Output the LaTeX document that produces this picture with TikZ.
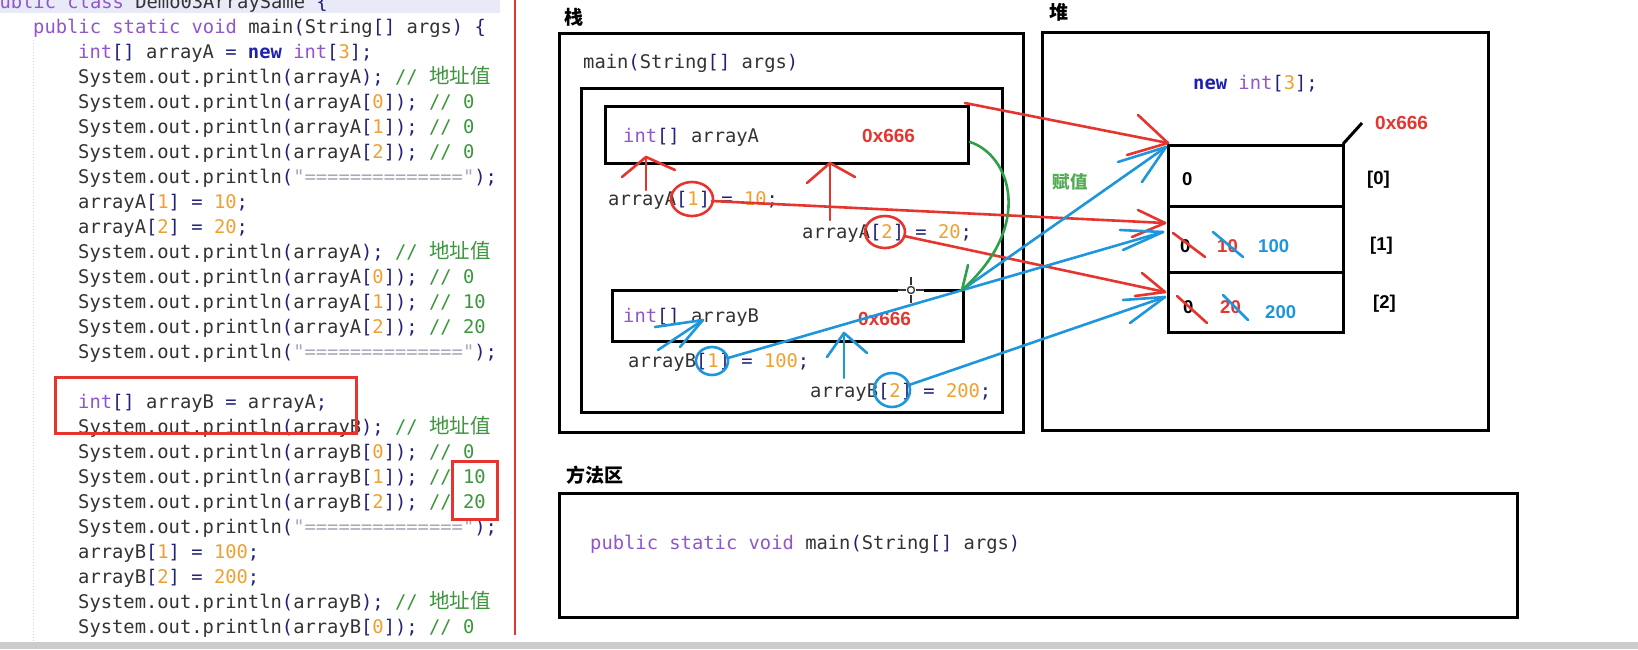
\documentclass[tikz,border=0pt]{standalone}
\usepackage{fontspec}
\setmonofont{DejaVu Sans Mono}
\newfontfamily\cjk{Noto Sans CJK SC}
\newfontfamily\labfont{Liberation Sans}
\definecolor{kwc}{HTML}{9155CD}
\definecolor{newc}{HTML}{2020B0}
\definecolor{brc}{HTML}{22227A}
\definecolor{numc}{HTML}{F0A030}
\definecolor{cmc}{HTML}{3C963C}
\definecolor{strc}{HTML}{A8A8B8}
\definecolor{txtc}{HTML}{333333}
\definecolor{penred}{HTML}{E5352E}
\definecolor{penblue}{HTML}{1E96DC}
\definecolor{pengreen}{HTML}{2EA04A}
\definecolor{labgreen}{HTML}{55AA55}
\definecolor{hdrc}{HTML}{E9EAF8}
\newcommand\ckw[1]{\textcolor{kwc}{#1}}
\newcommand\cbr[1]{\textcolor{brc}{#1}}
\newcommand\cnum[1]{\textcolor{numc}{#1}}
\newcommand\ccm[1]{\textcolor{cmc}{#1}}
\newcommand\cstr[1]{\textcolor{strc}{#1}}
\newcommand\cnew{{\bfseries\textcolor{newc}{new}}}
\newcommand\codefont{\ttfamily\fontsize{18.8}{25}\selectfont}
\newcommand\cjkc{\cjk\fontsize{20.5}{25}\selectfont}
\newcommand\sop{System.out.println\cbr{(}}
\begin{document}
\begin{tikzpicture}[x=1pt,y=-1pt,
  code/.style={font=\codefont, text=txtc, inner sep=0, anchor=base west},
  box/.style={draw=black, line width=3, inner sep=0},
  cjklab/.style={font=\cjk\bfseries\fontsize{19}{19}\selectfont, text=black, inner sep=0},
  addr/.style={font=\labfont\bfseries\fontsize{19}{19}\selectfont, text=penred, inner sep=0, anchor=base west},
  cellval/.style={font=\labfont\bfseries\fontsize{18.5}{18.5}\selectfont, text=black, inner sep=0, anchor=base west},
  redpen/.style={draw=penred, line width=2.6, line cap=round, line join=round},
  bluepen/.style={draw=penblue, line width=2.6, line cap=round, line join=round},
  greenpen/.style={draw=pengreen, line width=2.6, line cap=round, line join=round},
  hlbox/.style={draw=penred, line width=3, inner sep=0}]
\useasboundingbox (0,0) rectangle (1638,649);
\clip (0,0) rectangle (1638,649);
\fill[white] (0,0) rectangle (1638,649);
% ---------- code panel ----------
\fill[hdrc] (0,0) rectangle (500,13);
\draw[gray!35, line width=1, dotted] (33,40) -- (33,642);
\node[code] (c1) at (-12,8) {\ckw{public class} Demo03ArraySame \cbr{\{}};
\node[code] (c2) at (33,33) {\ckw{public static void} main\cbr{(}String\cbr{[]} args\cbr{) \{}};
\node[code] (c3) at (78,58) {\ckw{int}\cbr{[]} arrayA \cbr{=} \cnew{} \ckw{int}\cbr{[}\cnum{3}\cbr{];}};
\node[code] (c4) at (78,83) {\sop arrayA\cbr{);} \ccm{// {\cjkc 地址值}}};
\node[code] (c5) at (78,108) {\sop arrayA\cbr{[}\cnum{0}\cbr{]);} \ccm{// 0}};
\node[code] (c6) at (78,133) {\sop arrayA\cbr{[}\cnum{1}\cbr{]);} \ccm{// 0}};
\node[code] (c7) at (78,158) {\sop arrayA\cbr{[}\cnum{2}\cbr{]);} \ccm{// 0}};
\node[code] (c8) at (78,183) {\sop\cstr{"=============="}\cbr{);}};
\node[code] (c9) at (78,208) {arrayA\cbr{[}\cnum{1}\cbr{]} \cbr{=} \cnum{10}\cbr{;}};
\node[code] (c10) at (78,233) {arrayA\cbr{[}\cnum{2}\cbr{]} \cbr{=} \cnum{20}\cbr{;}};
\node[code] (c11) at (78,258) {\sop arrayA\cbr{);} \ccm{// {\cjkc 地址值}}};
\node[code] (c12) at (78,283) {\sop arrayA\cbr{[}\cnum{0}\cbr{]);} \ccm{// 0}};
\node[code] (c13) at (78,308) {\sop arrayA\cbr{[}\cnum{1}\cbr{]);} \ccm{// 10}};
\node[code] (c14) at (78,333) {\sop arrayA\cbr{[}\cnum{2}\cbr{]);} \ccm{// 20}};
\node[code] (c15) at (78,358) {\sop\cstr{"=============="}\cbr{);}};
\node[code] (c16) at (78,408) {\ckw{int}\cbr{[]} arrayB \cbr{=} arrayA\cbr{;}};
\node[code] (c17) at (78,433) {\sop arrayB\cbr{);} \ccm{// {\cjkc 地址值}}};
\node[code] (c18) at (78,458) {\sop arrayB\cbr{[}\cnum{0}\cbr{]);} \ccm{// 0}};
\node[code] (c19) at (78,483) {\sop arrayB\cbr{[}\cnum{1}\cbr{]);} \ccm{// 10}};
\node[code] (c20) at (78,508) {\sop arrayB\cbr{[}\cnum{2}\cbr{]);} \ccm{// 20}};
\node[code] (c21) at (78,533) {\sop\cstr{"=============="}\cbr{);}};
\node[code] (c22) at (78,558) {arrayB\cbr{[}\cnum{1}\cbr{]} \cbr{=} \cnum{100}\cbr{;}};
\node[code] (c23) at (78,583) {arrayB\cbr{[}\cnum{2}\cbr{]} \cbr{=} \cnum{200}\cbr{;}};
\node[code] (c24) at (78,608) {\sop arrayB\cbr{);} \ccm{// {\cjkc 地址值}}};
\node[code] (c25) at (78,633) {\sop arrayB\cbr{[}\cnum{0}\cbr{]);} \ccm{// 0}};
\node[hlbox, minimum width=301, minimum height=56] (hlB) at (205.5,405) {};
\node[hlbox, minimum width=45, minimum height=58] (hlV) at (474.5,490) {};
\draw[penred, line width=2.6] (515,0) -- (515,635);
% ---------- stack ----------
\node[cjklab] (lstack) at (574,17) {栈};
\node[box, minimum width=464, minimum height=399] (stack) at (791,232.5) {};
\node[code] (mainsig) at (583,68) {main\cbr{(}String\cbr{[]} args\cbr{)}};
\node[box, minimum width=421, minimum height=324] (frame) at (791.5,250) {};
\node[box, minimum width=363, minimum height=57] (boxA) at (786.5,134.5) {};
\node[code] (tA) at (623,142) {\ckw{int}\cbr{[]} arrayA};
\node[addr] (aA) at (862,142) {0x666};
\node[code] (sA1) at (608,205) {arrayA\cbr{[}\cnum{1}\cbr{]} \cbr{=} \cnum{10}\cbr{;}};
\node[code] (sA2) at (802,238) {arrayA\cbr{[}\cnum{2}\cbr{]} \cbr{=} \cnum{20}\cbr{;}};
\node[box, minimum width=351, minimum height=51] (boxB) at (787.5,315.5) {};
\node[code] (tB) at (623,322) {\ckw{int}\cbr{[]} arrayB};
\node[addr] (aB) at (858,325) {0x666};
\node[code] (sB1) at (628,367) {arrayB\cbr{[}\cnum{1}\cbr{]} \cbr{=} \cnum{100}\cbr{;}};
\node[code] (sB2) at (810,397) {arrayB\cbr{[}\cnum{2}\cbr{]} \cbr{=} \cnum{200}\cbr{;}};
% ---------- heap ----------
\node[cjklab] (lheap) at (1059,12) {堆};
\node[box, minimum width=446, minimum height=398] (heap) at (1265,231) {};
\node[code] (newarr) at (1193,89) {\cnew{} \ckw{int}\cbr{[}\cnum{3}\cbr{];}};
\node[box, minimum width=175, minimum height=61] (cell0) at (1255.5,175.5) {};
\node[box, minimum width=175, minimum height=66] (cell1) at (1255.5,239) {};
\node[box, minimum width=175, minimum height=60] (cell2) at (1255.5,302) {};
\coordinate (tickA) at (1343,144);
\coordinate (tickB) at (1362,123);
\draw[black, line width=3] (tickA) -- (tickB);
\node[addr] (aH) at (1375,129) {0x666};
\node[cellval] (v0) at (1182,185) {0};
\node[cellval] (i0) at (1367,184) {[0]};
\node[cellval] (v1) at (1180,252) {0};
\node[cellval, text=penred] (v1b) at (1217,252) {10};
\node[cellval, text=penblue] (v1c) at (1258,252) {100};
\node[cellval] (i1) at (1370,250) {[1]};
\node[cellval] (v2) at (1183,313) {0};
\node[cellval, text=penred] (v2b) at (1220,313) {20};
\node[cellval, text=penblue] (v2c) at (1265,318) {200};
\node[cellval] (i2) at (1373,308) {[2]};
\node[cjklab, text=labgreen, font=\cjk\bfseries\fontsize{17.5}{17.5}\selectfont] (assign) at (1070,182) {赋值};
% ---------- method area ----------
\node[cjklab] (lmethod) at (595,475) {方法区};
\node[box, minimum width=958, minimum height=124] (method) at (1038,555) {};
\node[code] (msig) at (590,549) {\ckw{public static void} main\cbr{(}String\cbr{[]} args\cbr{)}};
% ---------- cursor crosshair ----------
\coordinate (cur) at (911,290);
\fill[white] (898,287) rectangle (924,293);
\draw[black!80, line width=1.3] (898,290) -- (906,290) (916,290) -- (924,290) (911,277) -- (911,285) (911,295) -- (911,303);
\draw[black!80, line width=1.3] (cur) circle [radius=3.5];
% ---------- red annotations ----------
\coordinate (rA0) at (965,103); \coordinate (rAt) at (1168,143);
\draw[redpen] (rA0) -- (rAt);
\draw[redpen] (1138,115) -- (rAt) -- (1127,155);
\coordinate (r1c) at (692,199);
\draw[redpen] (r1c) ellipse [x radius=21, y radius=17];
\coordinate (r1s) at (712,201); \coordinate (r1t) at (1165,223);
\draw[redpen] (r1s) -- (r1t);
\draw[redpen] (1138,210) -- (r1t) -- (1132,237);
\coordinate (r2c) at (885,232);
\draw[redpen] (r2c) ellipse [x radius=20, y radius=16];
\coordinate (r2s) at (904,236); \coordinate (r2t) at (1165,292);
\draw[redpen] (r2s) -- (r2t);
\draw[redpen] (1142,273) -- (r2t) -- (1135,296);
\coordinate (ru1b) at (646,190); \coordinate (ru1t) at (646,157);
\draw[redpen] (ru1b) -- (ru1t);
\draw[redpen] (622,177) -- (ru1t) -- (675,170);
\coordinate (ru2b) at (830,220); \coordinate (ru2t) at (830,163);
\draw[redpen] (ru2b) -- (ru2t);
\draw[redpen] (807,183) -- (ru2t) -- (855,177);
\draw[redpen] (1173,233) -- (1205,257);
\draw[redpen] (1177,296) -- (1207,323);
% ---------- blue annotations ----------
\coordinate (bB0) at (962,290); \coordinate (bBt) at (1166,147);
\draw[bluepen] (bB0) -- (bBt);
\draw[bluepen] (1118,162) -- (bBt) -- (1142,182);
\coordinate (b1c) at (712,361);
\draw[bluepen] (b1c) ellipse [x radius=16, y radius=14];
\coordinate (b1s) at (728,358); \coordinate (b1t) at (1163,232);
\draw[bluepen] (b1s) -- (b1t);
\draw[bluepen] (1120,230) -- (b1t) -- (1123,250);
\coordinate (b2c) at (892,390);
\draw[bluepen] (b2c) ellipse [x radius=18, y radius=17];
\coordinate (b2s) at (909,385); \coordinate (b2t) at (1165,297);
\draw[bluepen] (b2s) -- (b2t);
\draw[bluepen] (1123,300) -- (b2t) -- (1130,323);
\coordinate (bu1b) at (844,378); \coordinate (bu1t) at (844,333);
\draw[bluepen] (bu1b) -- (bu1t);
\draw[bluepen] (827,357) -- (bu1t) -- (867,353);
\coordinate (bu2b) at (658,350); \coordinate (bu2t) at (703,320);
\draw[bluepen] (bu2b) -- (bu2t);
\draw[bluepen] (655,327) -- (bu2t) -- (680,347);
\draw[bluepen] (1213,232) -- (1243,257);
\draw[bluepen] (1223,295) -- (1248,320);
% ---------- green annotation ----------
\coordinate (g0) at (970,142); \coordinate (gt) at (962,290);
\draw[greenpen] (g0) .. controls (1010,155) and (1035,225) .. (gt);
\draw[greenpen] (968,265) -- (gt);
% ---------- bottom bar ----------
\fill[black!20] (0,642) rectangle (1638,649);
\end{tikzpicture}
\end{document}
